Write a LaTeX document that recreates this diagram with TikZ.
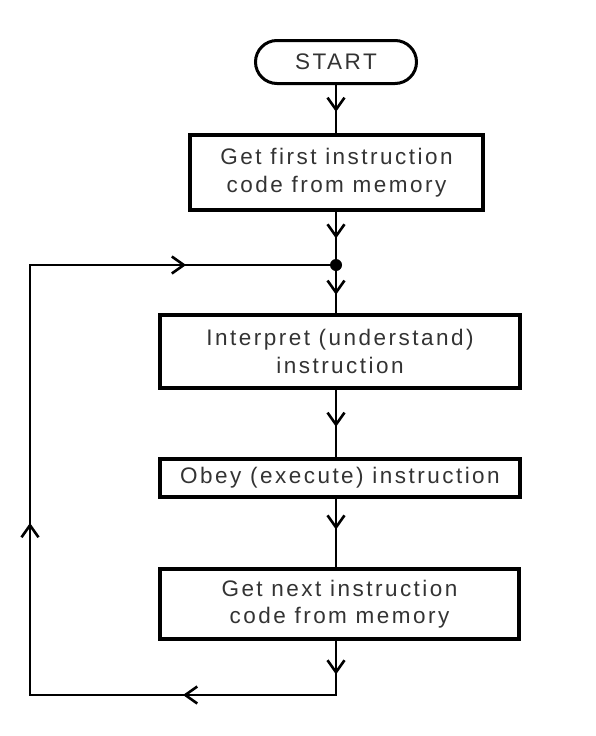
\documentclass[tikz,border=0pt]{standalone}
\usepackage{fontspec}
\setmainfont{Liberation Sans}[LetterSpace=11]
\usetikzlibrary{arrows.meta,positioning,shapes.misc,decorations.markings}

\begin{document}
\begin{tikzpicture}[
  x=1pt, y=-1pt,
  every node/.style={font=\fontsize{22.5}{27.5}\selectfont, align=center, text=black!80, inner sep=0pt},
  process/.style={rectangle, draw, line width=4pt},
  terminal/.style={rounded rectangle, draw, line width=3pt, minimum width=161pt, minimum height=43pt},
  flow/.style={draw, line width=2pt, line cap=rect},
  midarrow/.style={postaction={decorate}, decoration={markings,
    mark=at position #1 with {\arrow{Straight Barb[length=12pt,width=17pt,line width=2.6pt]}}}}
]
\useasboundingbox (0,0) rectangle (596,736);

\node[terminal] (start) at (336,62) {START};
\node[process, minimum width=293pt, minimum height=75pt] (first) at (336.5,172.5)
  {Get first instruction\\code from memory};
\coordinate (junct) at (336,265);
\node[process, minimum width=360pt, minimum height=73pt] (interp) at (340,351.5)
  {Interpret (understand)\\instruction};
\node[process, minimum width=360pt, minimum height=38pt] (obey) at (340,478)
  {Obey (execute) instruction};
\node[process, minimum width=359pt, minimum height=70pt] (next) at (339.5,604)
  {Get next instruction\\code from memory};

% loop back corners
\coordinate (botright) at (336,695);
\coordinate (botleft) at (30,695);
\coordinate (topleft) at (30,265);

\draw[flow, midarrow=0.56] (start) -- (start |- first.north);
\draw[flow, midarrow=0.5] (junct |- first.south) -- (junct);
\draw[flow, midarrow=0.62] (junct) -- (junct |- interp.north);
\draw[flow, midarrow=0.55] (junct |- interp.south) -- (junct |- obey.north);
\draw[flow, midarrow=0.45] (junct |- obey.south) -- (junct |- next.north);
\draw[flow, midarrow=0.62] (junct |- next.south) -- (botright);
\draw[flow, midarrow=0.5] (botright) -- (botleft);
\draw[flow, midarrow=0.4] (botleft) -- (topleft);
\draw[flow, midarrow=0.51] (topleft) -- (junct);
\fill (junct) circle (6pt);
\end{tikzpicture}
\end{document}
